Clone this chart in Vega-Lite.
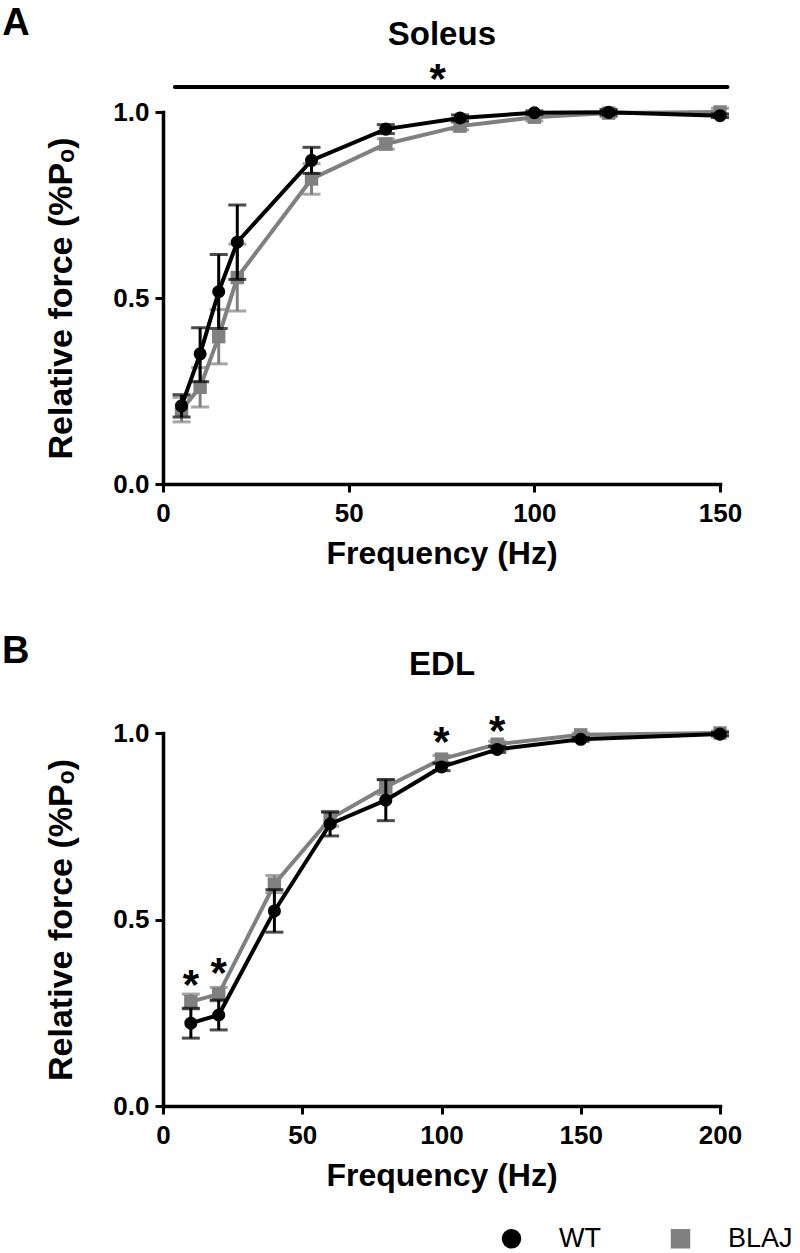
{
  "$schema": "https://vega.github.io/schema/vega-lite/v6.json",
  "background": "white",
  "padding": {"left": 2, "top": 5, "right": 0, "bottom": 0},
  "config": {
    "font": "Liberation Sans",
    "view": {"stroke": null},
    "axis": {"domainColor": "black", "domainWidth": 3.5, "domainCap": "square", "tickColor": "black", "tickWidth": 3, "tickSize": 8, "labelColor": "black", "labelFontWeight": "bold", "labelFontSize": 26, "labelFont": "Liberation Sans", "labelPadding": 6, "labelFlush": false, "labelOverlap": false, "titleColor": "black", "titleFontWeight": "bold", "titleFont": "Liberation Sans", "grid": false},
    "axisX": {"titleFontSize": 32, "titlePadding": 12, "labelPadding": 8},
    "axisY": {"titleFontSize": 34, "titlePadding": 34},
    "legend": {"labelFontSize": 27, "labelFont": "Liberation Sans", "labelColor": "black", "symbolSize": 380, "labelOffset": 34, "columnPadding": 66, "padding": 0, "symbolStrokeWidth": 0, "labelLimit": 0}
  },
  "datasets": {
    "soleus": [
      {"freq": 5, "group": "WT", "mean": 0.21, "lo": 0.18, "hi": 0.24},
      {"freq": 10, "group": "WT", "mean": 0.35, "lo": 0.275, "hi": 0.42},
      {"freq": 15, "group": "WT", "mean": 0.517, "lo": 0.418, "hi": 0.617},
      {"freq": 20, "group": "WT", "mean": 0.65, "lo": 0.55, "hi": 0.75},
      {"freq": 40, "group": "WT", "mean": 0.87, "lo": 0.835, "hi": 0.905},
      {"freq": 60, "group": "WT", "mean": 0.954, "lo": 0.942, "hi": 0.966},
      {"freq": 80, "group": "WT", "mean": 0.984, "lo": 0.976, "hi": 0.992},
      {"freq": 100, "group": "WT", "mean": 0.998, "lo": 0.993, "hi": 1.003},
      {"freq": 120, "group": "WT", "mean": 0.999, "lo": 0.992, "hi": 1.006},
      {"freq": 150, "group": "WT", "mean": 0.99, "lo": 0.985, "hi": 0.995},
      {"freq": 5, "group": "BLAJ", "mean": 0.2, "lo": 0.167, "hi": 0.233},
      {"freq": 10, "group": "BLAJ", "mean": 0.26, "lo": 0.207, "hi": 0.313},
      {"freq": 15, "group": "BLAJ", "mean": 0.396, "lo": 0.323, "hi": 0.469},
      {"freq": 20, "group": "BLAJ", "mean": 0.555, "lo": 0.465, "hi": 0.645},
      {"freq": 40, "group": "BLAJ", "mean": 0.82, "lo": 0.779, "hi": 0.861},
      {"freq": 60, "group": "BLAJ", "mean": 0.914, "lo": 0.9, "hi": 0.928},
      {"freq": 80, "group": "BLAJ", "mean": 0.962, "lo": 0.952, "hi": 0.972},
      {"freq": 100, "group": "BLAJ", "mean": 0.986, "lo": 0.976, "hi": 0.996},
      {"freq": 120, "group": "BLAJ", "mean": 0.997, "lo": 0.987, "hi": 1.007},
      {"freq": 150, "group": "BLAJ", "mean": 1.0, "lo": 0.99, "hi": 1.01}
    ],
    "edl": [
      {"freq": 10, "group": "WT", "mean": 0.222, "lo": 0.182, "hi": 0.262},
      {"freq": 20, "group": "WT", "mean": 0.244, "lo": 0.204, "hi": 0.284},
      {"freq": 40, "group": "WT", "mean": 0.523, "lo": 0.466, "hi": 0.58},
      {"freq": 60, "group": "WT", "mean": 0.756, "lo": 0.724, "hi": 0.788},
      {"freq": 80, "group": "WT", "mean": 0.82, "lo": 0.765, "hi": 0.875},
      {"freq": 100, "group": "WT", "mean": 0.909, "lo": 0.899, "hi": 0.919},
      {"freq": 120, "group": "WT", "mean": 0.956, "lo": 0.948, "hi": 0.964},
      {"freq": 150, "group": "WT", "mean": 0.983, "lo": 0.978, "hi": 0.988},
      {"freq": 200, "group": "WT", "mean": 0.997, "lo": 0.992, "hi": 1.002},
      {"freq": 10, "group": "BLAJ", "mean": 0.28, "lo": 0.26, "hi": 0.3},
      {"freq": 20, "group": "BLAJ", "mean": 0.3, "lo": 0.282, "hi": 0.318},
      {"freq": 40, "group": "BLAJ", "mean": 0.595, "lo": 0.572, "hi": 0.618},
      {"freq": 60, "group": "BLAJ", "mean": 0.77, "lo": 0.75, "hi": 0.79},
      {"freq": 80, "group": "BLAJ", "mean": 0.855, "lo": 0.835, "hi": 0.875},
      {"freq": 100, "group": "BLAJ", "mean": 0.93, "lo": 0.92, "hi": 0.94},
      {"freq": 120, "group": "BLAJ", "mean": 0.97, "lo": 0.962, "hi": 0.978},
      {"freq": 150, "group": "BLAJ", "mean": 0.995, "lo": 0.99, "hi": 1.0},
      {"freq": 200, "group": "BLAJ", "mean": 1.0, "lo": 0.995, "hi": 1.005}
    ]
  },
  "bounds": "flush",
  "spacing": 249,
  "resolve": {"scale": {"color": "independent", "shape": "independent"}},
  "vconcat": [
    {
      "width": 557,
      "height": 372,
      "data": {"name": "soleus"},
      "encoding": {
        "x": {"field": "freq", "type": "quantitative", "scale": {"domain": [0, 150], "nice": false, "zero": false}, "axis": {"values": [0, 50, 100, 150]}, "title": "Frequency (Hz)"},
        "y": {"field": "mean", "type": "quantitative", "scale": {"domain": [0, 1], "nice": false}, "axis": {"values": [0, 0.5, 1], "format": ".1f"}, "title": "Relative force (%Pₒ)"}
      },
      "layer": [
        {"transform": [{"filter": "datum.group === 'BLAJ'"}], "mark": {"type": "errorbar", "color": "#808080", "thickness": 3, "ticks": {"size": 18}}, "encoding": {"y": {"field": "lo", "type": "quantitative", "scale": {"domain": [0, 1], "nice": false}, "title": "Relative force (%Pₒ)"}, "y2": {"field": "hi"}}},
        {"transform": [{"filter": "datum.group === 'BLAJ'"}], "mark": {"type": "line", "color": "#808080", "strokeWidth": 4}},
        {"transform": [{"filter": "datum.group === 'BLAJ'"}], "mark": {"type": "point", "filled": true, "opacity": 1, "size": 180}, "encoding": {
          "color": {"field": "group", "type": "nominal", "scale": {"domain": ["WT", "BLAJ"], "range": ["black", "#808080"]}, "legend": null},
          "shape": {"field": "group", "type": "nominal", "scale": {"domain": ["WT", "BLAJ"], "range": ["circle", "square"]}, "legend": null}}},
        {"transform": [{"filter": "datum.group === 'WT'"}], "mark": {"type": "errorbar", "color": "black", "thickness": 3, "ticks": {"size": 18}}, "encoding": {"y": {"field": "lo", "type": "quantitative", "scale": {"domain": [0, 1], "nice": false}, "title": "Relative force (%Pₒ)"}, "y2": {"field": "hi"}}},
        {"transform": [{"filter": "datum.group === 'WT'"}], "mark": {"type": "line", "color": "black", "strokeWidth": 4}},
        {"transform": [{"filter": "datum.group === 'WT'"}], "mark": {"type": "point", "filled": true, "opacity": 1, "size": 170}, "encoding": {
          "color": {"field": "group", "type": "nominal", "scale": {"domain": ["WT", "BLAJ"], "range": ["black", "#808080"]}, "legend": null},
          "shape": {"field": "group", "type": "nominal", "scale": {"domain": ["WT", "BLAJ"], "range": ["circle", "square"]}, "legend": null}}},
        {"data": {"values": [{"freq": 3.2, "freq2": 152, "mean": 1.067}]}, "mark": {"type": "rule", "color": "black", "strokeWidth": 4, "strokeCap": "round"}, "encoding": {"x2": {"field": "freq2"}}},
        {"data": {"values": [{"freq": 74, "mean": 1.051, "label": "*"}]}, "mark": {"type": "text", "fontSize": 42, "fontWeight": "bold", "baseline": "alphabetic", "align": "center", "color": "black"}, "encoding": {"text": {"field": "label"}}},
        {"data": {"values": [{"freq": 75.1, "mean": 1.18, "label": "Soleus"}]}, "mark": {"type": "text", "fontSize": 33, "fontWeight": "bold", "baseline": "alphabetic", "align": "center", "color": "black"}, "encoding": {"text": {"field": "label"}}},
        {"data": {"values": [{"freq": -43.3, "mean": 1.206, "label": "A"}]}, "mark": {"type": "text", "fontSize": 38, "fontWeight": "bold", "baseline": "alphabetic", "align": "left", "color": "black"}, "encoding": {"text": {"field": "label"}}}
      ]
    },
    {
      "width": 557,
      "height": 373,
      "data": {"name": "edl"},
      "encoding": {
        "x": {"field": "freq", "type": "quantitative", "scale": {"domain": [0, 200], "nice": false, "zero": false}, "axis": {"values": [0, 50, 100, 150, 200]}, "title": "Frequency (Hz)"},
        "y": {"field": "mean", "type": "quantitative", "scale": {"domain": [0, 1], "nice": false}, "axis": {"values": [0, 0.5, 1], "format": ".1f"}, "title": "Relative force (%Pₒ)"}
      },
      "layer": [
        {"transform": [{"filter": "datum.group === 'BLAJ'"}], "mark": {"type": "errorbar", "color": "#808080", "thickness": 3, "ticks": {"size": 18}}, "encoding": {"y": {"field": "lo", "type": "quantitative", "scale": {"domain": [0, 1], "nice": false}, "title": "Relative force (%Pₒ)"}, "y2": {"field": "hi"}}},
        {"transform": [{"filter": "datum.group === 'BLAJ'"}], "mark": {"type": "line", "color": "#808080", "strokeWidth": 4}},
        {"transform": [{"filter": "datum.group === 'BLAJ'"}], "mark": {"type": "point", "filled": true, "opacity": 1, "size": 180}, "encoding": {
          "color": {"field": "group", "type": "nominal", "scale": {"domain": ["WT", "BLAJ"], "range": ["black", "#808080"]}, "legend": {"orient": "none", "legendX": 335, "legendY": 492, "direction": "horizontal", "title": null}},
          "shape": {"field": "group", "type": "nominal", "scale": {"domain": ["WT", "BLAJ"], "range": ["circle", "square"]}, "legend": {"orient": "none", "legendX": 335, "legendY": 492, "direction": "horizontal", "title": null}}}},
        {"transform": [{"filter": "datum.group === 'WT'"}], "mark": {"type": "errorbar", "color": "black", "thickness": 3, "ticks": {"size": 18}}, "encoding": {"y": {"field": "lo", "type": "quantitative", "scale": {"domain": [0, 1], "nice": false}, "title": "Relative force (%Pₒ)"}, "y2": {"field": "hi"}}},
        {"transform": [{"filter": "datum.group === 'WT'"}], "mark": {"type": "line", "color": "black", "strokeWidth": 4}},
        {"transform": [{"filter": "datum.group === 'WT'"}], "mark": {"type": "point", "filled": true, "opacity": 1, "size": 170}, "encoding": {
          "color": {"field": "group", "type": "nominal", "scale": {"domain": ["WT", "BLAJ"], "range": ["black", "#808080"]}, "legend": {"orient": "none", "legendX": 335, "legendY": 492, "direction": "horizontal", "title": null}},
          "shape": {"field": "group", "type": "nominal", "scale": {"domain": ["WT", "BLAJ"], "range": ["circle", "square"]}, "legend": {"orient": "none", "legendX": 335, "legendY": 492, "direction": "horizontal", "title": null}}}},
        {"data": {"values": [{"freq": 10, "mean": 0.287, "label": "*"}, {"freq": 20, "mean": 0.319, "label": "*"}, {"freq": 100, "mean": 0.938, "label": "*"}, {"freq": 120, "mean": 0.968, "label": "*"}]}, "mark": {"type": "text", "fontSize": 42, "fontWeight": "bold", "baseline": "alphabetic", "align": "center", "color": "black"}, "encoding": {"text": {"field": "label"}}},
        {"data": {"values": [{"freq": 100.2, "mean": 1.155, "label": "EDL"}]}, "mark": {"type": "text", "fontSize": 33, "fontWeight": "bold", "baseline": "alphabetic", "align": "center", "color": "black"}, "encoding": {"text": {"field": "label"}}},
        {"data": {"values": [{"freq": -57.8, "mean": 1.189, "label": "B"}]}, "mark": {"type": "text", "fontSize": 38, "fontWeight": "bold", "baseline": "alphabetic", "align": "left", "color": "black"}, "encoding": {"text": {"field": "label"}}}
      ]
    }
  ]
}
